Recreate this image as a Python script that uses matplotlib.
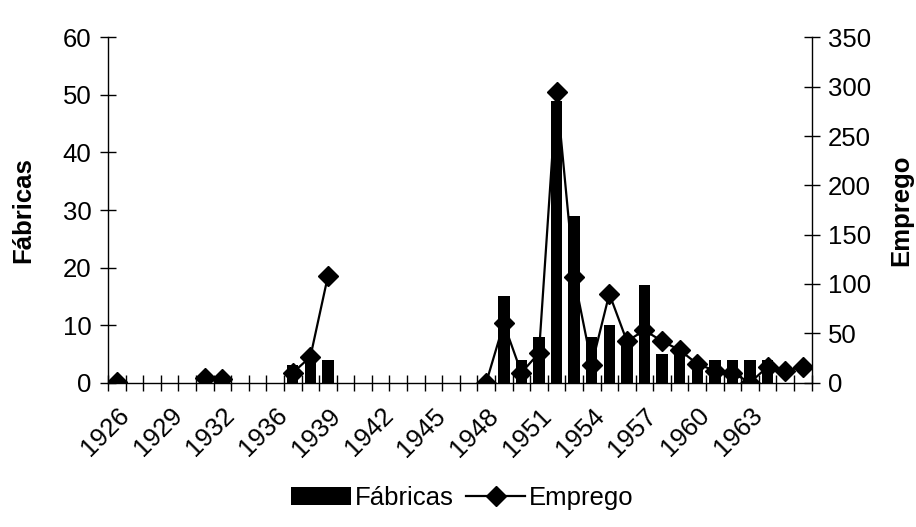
import numpy as np
import matplotlib
matplotlib.use('Agg')
import matplotlib.pyplot as plt

plt.rcParams['font.family'] = ['Liberation Sans', 'DejaVu Sans']

# categories (one year between 1932 and 1936 is absent in the source)
years = ['1926', '1927', '1928', '1929', '1930', '1931', '1932', '1933', '1935',
         '1936', '1937', '1938', '1939', '1940', '1941', '1942', '1943', '1944',
         '1945', '1946', '1947', '1948', '1949', '1950', '1951', '1952', '1953',
         '1954', '1955', '1956', '1957', '1958', '1959', '1960', '1961', '1962',
         '1963', '1964', '1965', '1966']

# Fábricas (left axis, bars)
fabricas = [0, 0, 0, 0, 0, 0, 0, 0, 0,
            0, 3, 5, 4, 0, 0, 0, 0, 0,
            0, 0, 0, 0, 15, 4, 8, 49, 29,
            8, 10, 8, 17, 5, 6, 3, 4, 4,
            4, 4, 0, 0]

# Emprego (right axis, line) - nan = no data
nan = np.nan
emprego = [1, nan, nan, nan, nan, 5, 4, nan, nan,
           nan, 10, 26, 108, nan, nan, nan, nan, nan,
           nan, nan, nan, 0, 60, 10, 30, 295, 107,
           18, 90, 42, 53, 42, 33, 19, 12, 10,
           0, 16, 12, 16]

# only every third label is printed, the last one is not
tick_labels = ['1926', '1929', '1932', '1936', '1939', '1942', '1945',
               '1948', '1951', '1954', '1957', '1960', '1963']

n = len(years)
x = np.arange(n)
fs = 18.5

fig = plt.figure(figsize=(9.16, 5.27), dpi=100)
ax = fig.add_axes([0.118, 0.274, 0.768, 0.655])
ax2 = ax.twinx()

bars = ax.bar(x, fabricas, width=0.65, color='black', label='Fábricas', zorder=2)
line, = ax2.plot(x, emprego, color='black', lw=1.6, marker='D', markersize=10,
                 label='Emprego')

ax.set_xlim(-0.5, n - 0.5)
ax.set_ylim(0, 60)
ax2.set_ylim(0, 350)
ax.set_yticks(np.arange(0, 61, 10))
ax2.set_yticks(np.arange(0, 351, 50))

# x axis: labels on category centres, cross ticks on the boundaries
ax.set_xticks(x[::3][:len(tick_labels)])
ax.set_xticklabels(tick_labels, rotation=45, ha='right', va='top',
                   rotation_mode='anchor')
ax.set_xticks(np.arange(n + 1) - 0.5, minor=True)
ax.tick_params(axis='x', which='major', length=0, pad=15, labelsize=fs)
ax.tick_params(axis='x', which='minor', length=12, width=1, direction='inout')
ax.tick_params(axis='y', length=12, width=1, direction='inout', pad=6, labelsize=fs)
ax2.tick_params(axis='y', length=12, width=1, direction='inout', pad=6, labelsize=fs)

for sp in ['top', 'right']:
    ax.spines[sp].set_visible(False)
for sp in ['top', 'left', 'bottom']:
    ax2.spines[sp].set_visible(False)
for a in (ax, ax2):
    for sp in a.spines.values():
        sp.set_linewidth(1)

ax.set_ylabel('Fábricas', fontsize=fs, fontweight='bold', labelpad=20)
ax2.set_ylabel('Emprego', fontsize=fs, fontweight='bold', labelpad=13)

fig.legend([bars, line], ['Fábricas', 'Emprego'], loc='center',
           bbox_to_anchor=(0.505, 0.055), ncol=2, frameon=False, fontsize=fs,
           handlelength=2.3, handletextpad=0.15, columnspacing=0.5)

fig.savefig('out.png', dpi=100)
